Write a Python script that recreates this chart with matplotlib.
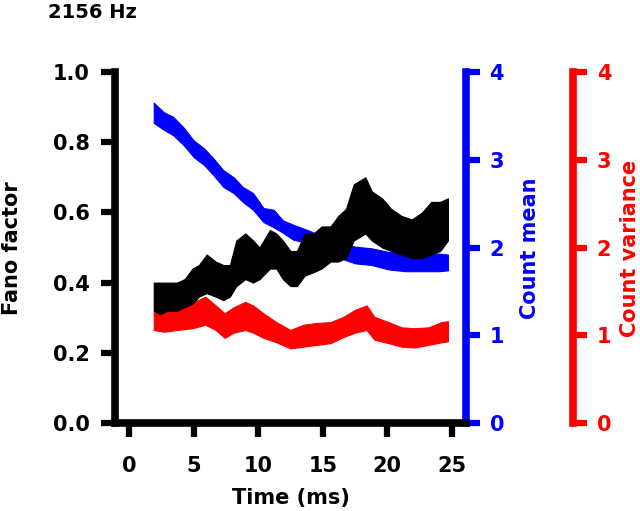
import matplotlib
matplotlib.use('Agg')
import matplotlib.pyplot as plt

# values (lower / upper edge of each noisy band)
time_fano = [1.9, 2.4, 3.0, 3.7, 4.3, 4.9, 5.4, 6.0, 6.7, 7.3, 7.8, 8.3, 9.0, 9.6, 10.1,
             10.9, 11.4, 11.9, 12.5, 13.0, 13.6, 14.3, 14.9, 15.6, 16.2, 16.8, 17.4,
             18.3, 18.8, 19.6, 20.3, 21.1, 21.9, 22.7, 23.4, 24.1, 24.7]
fano_lo = [0.32, 0.31, 0.32, 0.32, 0.33, 0.34, 0.36, 0.37, 0.36, 0.35, 0.36, 0.39, 0.41,
           0.40, 0.41, 0.44, 0.44, 0.41, 0.39, 0.39, 0.42, 0.43, 0.44, 0.46, 0.46, 0.47,
           0.52, 0.54, 0.52, 0.50, 0.49, 0.48, 0.47, 0.47, 0.48, 0.49, 0.52]
fano_hi = [0.40, 0.40, 0.40, 0.40, 0.41, 0.44, 0.45, 0.48, 0.46, 0.45, 0.45, 0.52, 0.54,
           0.52, 0.50, 0.55, 0.54, 0.52, 0.49, 0.49, 0.54, 0.54, 0.56, 0.56, 0.59, 0.61,
           0.68, 0.70, 0.66, 0.64, 0.61, 0.59, 0.58, 0.60, 0.63, 0.63, 0.64]

time_mean = [1.9, 2.7, 3.4, 4.2, 5.0, 5.8, 6.5, 7.3, 8.1, 8.8, 9.6, 10.4, 11.2, 11.9,
             12.7, 13.8, 15.5, 16.5, 17.5, 18.8, 20.1, 21.4, 22.7, 24.0, 24.7]
mean_lo = [3.42, 3.34, 3.28, 3.17, 3.03, 2.94, 2.83, 2.69, 2.62, 2.52, 2.43, 2.29, 2.23,
           2.17, 2.09, 2.05, 1.92, 1.87, 1.82, 1.80, 1.75, 1.73, 1.73, 1.73, 1.74]
mean_hi = [3.65, 3.54, 3.49, 3.37, 3.22, 3.13, 3.02, 2.88, 2.80, 2.69, 2.62, 2.45, 2.43,
           2.31, 2.26, 2.20, 2.10, 2.05, 2.01, 1.99, 1.95, 1.93, 1.93, 1.93, 1.92]

time_var = [1.9, 2.7, 3.7, 4.9, 5.9, 6.7, 7.4, 8.1, 9.0, 9.6, 10.4, 11.4, 12.5, 13.5,
            14.5, 15.6, 16.6, 17.5, 18.4, 19.0, 20.1, 21.1, 22.1, 23.2, 24.2, 24.7]
var_lo = [1.06, 1.04, 1.06, 1.08, 1.12, 1.06, 0.97, 1.03, 1.06, 1.03, 0.97, 0.92, 0.85,
          0.87, 0.89, 0.91, 0.98, 1.03, 1.06, 0.95, 0.91, 0.87, 0.86, 0.89, 0.92, 0.93]
var_hi = [1.27, 1.32, 1.37, 1.37, 1.44, 1.34, 1.25, 1.32, 1.38, 1.34, 1.25, 1.15, 1.06,
          1.12, 1.14, 1.15, 1.21, 1.29, 1.34, 1.21, 1.15, 1.09, 1.08, 1.09, 1.15, 1.16]

x_ticks = [0, 5, 10, 15, 20, 25]
fano_ticks = [0.0, 0.2, 0.4, 0.6, 0.8, 1.0]
count_ticks = [0, 1, 2, 3, 4]

BLUE = '#0000ff'
RED = '#ff0000'


def style_axis(axis, color):
    axis.tick_params(axis='y', colors=color, length=10, width=4.5, pad=7,
                     labelsize=15)
    for lab in axis.get_yticklabels():
        lab.set_fontweight('bold')


def main():
    plt.rcParams['font.family'] = ['DejaVu Sans']
    plt.rcParams['font.weight'] = 'bold'

    fig = plt.figure(figsize=(6.4, 5.11), dpi=100)
    ax = fig.add_axes([0.1797, 0.1722, 0.5484, 0.6869])
    ax2 = ax.twinx()
    ax3 = ax.twinx()

    # count mean (blue) and count variance (red)
    ax2.fill_between(time_mean, mean_lo, mean_hi, color=BLUE, lw=0.8, edgecolor=BLUE)
    ax3.fill_between(time_var, var_lo, var_hi, color=RED, lw=0.8, edgecolor=RED)
    # fano factor drawn on top
    ax.fill_between(time_fano, fano_lo, fano_hi, color='black', lw=0.8, edgecolor='black')
    ax.set_zorder(ax3.get_zorder() + 1)
    ax.patch.set_visible(False)

    ax.set_xlim(-1.1, 26.1)
    ax.set_ylim(0, 1.0)
    ax2.set_ylim(0, 4)
    ax3.set_ylim(0, 4)

    ax.set_xticks(x_ticks)
    ax.set_yticks(fano_ticks)
    ax.set_yticklabels(['{:.1f}'.format(v) for v in fano_ticks])
    ax2.set_yticks(count_ticks)
    ax3.set_yticks(count_ticks)

    for s in ['top', 'right']:
        ax.spines[s].set_visible(False)
    for s in ['left', 'bottom']:
        ax.spines[s].set_linewidth(5.5)
    for a in [ax2, ax3]:
        for s in ['top', 'left', 'bottom']:
            a.spines[s].set_visible(False)
        a.spines['right'].set_linewidth(5.5)
    ax2.spines['right'].set_color(BLUE)
    ax3.spines['right'].set_color(RED)
    ax3.spines['right'].set_position(('axes', 1.305))

    ax.tick_params(axis='x', length=10, width=4.5, pad=14, labelsize=15)
    ax.tick_params(axis='y', length=10, width=4.5, pad=8, labelsize=15)
    style_axis(ax2, BLUE)
    style_axis(ax3, RED)

    # axis labels
    fig.text(12 / 640, 1 - 248 / 511, 'Fano factor', rotation=90, ha='center',
             va='center', fontsize=15, fontweight='bold')
    fig.text(291 / 640, 1 - 498 / 511, 'Time (ms)', ha='center', va='center',
             fontsize=15, fontweight='bold')
    fig.text(530 / 640, 1 - 248 / 511, 'Count mean', rotation=90, ha='center',
             va='center', fontsize=15, fontweight='bold', color=BLUE)
    fig.text(630 / 640, 1 - 248 / 511, 'Count variance', rotation=90, ha='center',
             va='center', fontsize=15, fontweight='bold', color=RED)
    fig.text(48 / 640, 1 - 12 / 511, '2156 Hz', ha='left', va='center',
             fontsize=14, fontweight='bold')

    fig.savefig('out.png', dpi=100)


if __name__ == '__main__':
    main()
